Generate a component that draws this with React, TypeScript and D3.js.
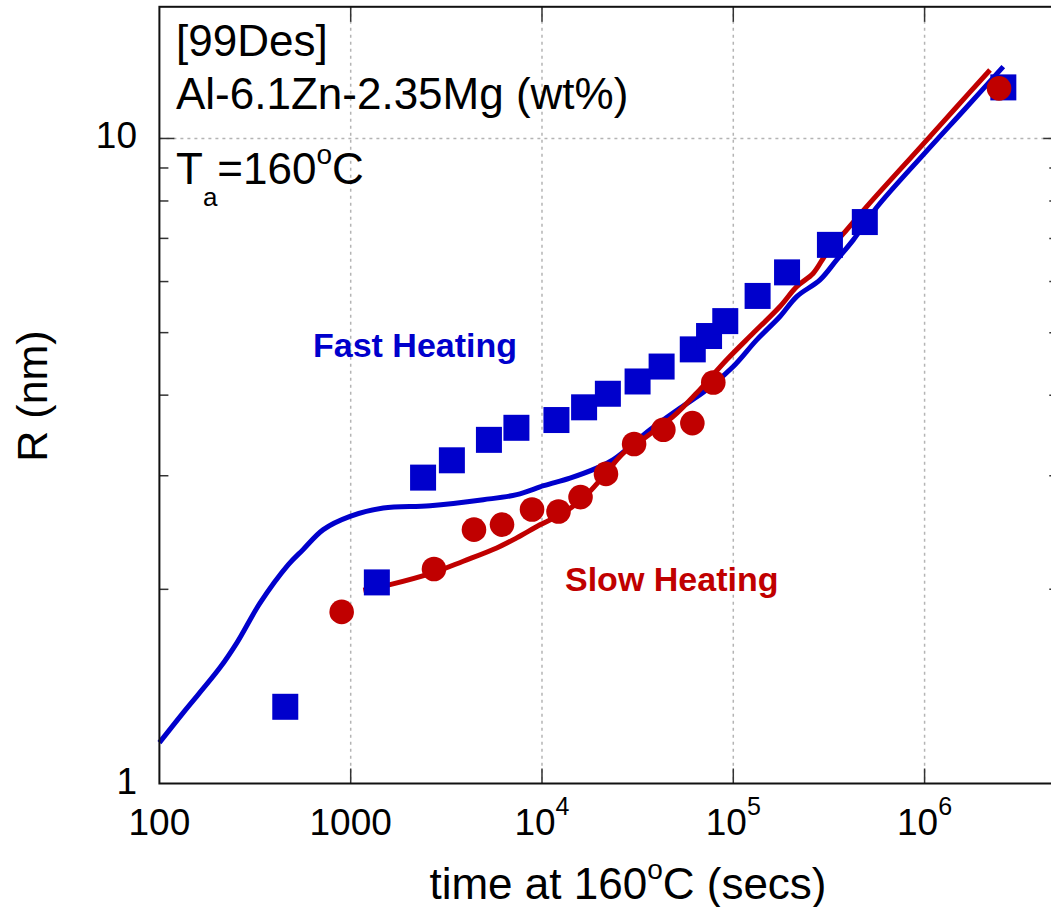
import React from 'react';
import * as d3 from 'd3';

// ---- Data ----
const fastTime = [455, 1370, 2390, 3380, 5280, 7350, 11900, 16600, 22100, 31600, 42200, 61400, 74700, 90800, 134000, 191000, 320000, 487000, 2580000];
const fastR = [1.315, 2.05, 2.98, 3.17, 3.41, 3.56, 3.66, 3.83, 4.02, 4.2, 4.43, 4.71, 4.94, 5.21, 5.7, 6.2, 6.84, 7.42, 12.0];

const slowTime = [897, 2725, 4410, 6180, 8870, 12200, 15900, 21600, 30300, 43100, 61100, 78600, 2450000];
const slowR = [1.845, 2.15, 2.475, 2.52, 2.66, 2.64, 2.78, 3.02, 3.36, 3.535, 3.62, 4.185, 11.96];

const fastModelTime = [100, 133, 207, 254, 336, 472, 563, 719, 992, 1480, 2600, 4930, 7380, 10200, 14000, 19300, 23600, 36700, 52700, 72600, 100000, 132600, 175400, 214500, 283900, 347100, 424000, 563900, 1005000, 1626000, 2578000];
const fastModelR = [1.157, 1.287, 1.511, 1.652, 1.905, 2.184, 2.304, 2.475, 2.595, 2.674, 2.696, 2.754, 2.804, 2.895, 2.975, 3.083, 3.177, 3.535, 3.819, 4.077, 4.431, 4.873, 5.296, 5.687, 6.036, 6.483, 6.963, 7.83, 9.5, 11.11, 12.92];

const slowModelTime = [1164, 1605, 2703, 3877, 5797, 7375, 9761, 12920, 16440, 20910, 26610, 35260, 48580, 64370, 92360, 127200, 175400, 214500, 261900, 307700, 391600, 498100, 946000, 1442000, 2198000];
const slowModelR = [1.993, 2.034, 2.123, 2.211, 2.318, 2.403, 2.518, 2.627, 2.771, 2.993, 3.253, 3.452, 3.707, 4.03, 4.538, 4.992, 5.488, 5.893, 6.182, 6.641, 7.216, 7.84, 9.68, 11.12, 12.77];

const xTicks = [100, 1000, 1e4, 1e5, 1e6];
const xTickBase = ['100', '1000', '10', '10', '10'];
const xTickExp = ['', '', '4', '5', '6'];
const yMajorTicks = [1, 10];
const yMinorTicks = [2, 3, 4, 5, 6, 7, 8, 9, 20];

const X_DOMAIN: [number, number] = [100, 5e6];
const Y_DOMAIN: [number, number] = [1, 16];

const BLUE = '#0000cc';
const RED = '#c00000';
const FONT = '"Liberation Sans", Arial, Helvetica, sans-serif';

export default function App() {
  const W = 1051, H = 907;
  const left = 159.4, right = 1058.3, top = 6.8, bottom = 783.5;

  const x = d3.scaleLog().domain(X_DOMAIN).range([left, right]);
  const y = d3.scaleLog().domain(Y_DOMAIN).range([bottom, top]);

  const line = d3
    .line<[number, number]>()
    .x((d) => x(d[0]))
    .y((d) => y(d[1]))
    .curve(d3.curveCatmullRom.alpha(0.5));

  const fastModel = fastModelTime.map((t, i) => [t, fastModelR[i]] as [number, number]);
  const slowModel = slowModelTime.map((t, i) => [t, slowModelR[i]] as [number, number]);

  const sq = 26;
  const cr = 12.3;

  const gridColor = '#b4b4b4';
  const tickColor = '#333';

  const yMinorVisible = yMinorTicks.filter((v) => v > Y_DOMAIN[0] && v < Y_DOMAIN[1]);

  return (
    <svg
      width={W}
      height={H}
      style={{ position: 'absolute', left: 0, top: 0, background: '#fff' }}
      fontFamily={FONT}
    >
      <rect x={0} y={0} width={W} height={H} fill="#fff" />

      {/* grid */}
      {xTicks.filter((t) => t > X_DOMAIN[0]).map((t) => (
        <line key={'gx' + t} x1={x(t)} x2={x(t)} y1={top} y2={bottom} stroke={gridColor} strokeWidth={1.5} strokeDasharray="3,4" />
      ))}
      {yMajorTicks.filter((v) => v > Y_DOMAIN[0]).map((v) => (
        <line key={'gy' + v} x1={left} x2={right} y1={y(v)} y2={y(v)} stroke={gridColor} strokeWidth={1.5} strokeDasharray="3,4" />
      ))}

      {/* model lines */}
      <path d={line(fastModel) || ''} fill="none" stroke={BLUE} strokeWidth={5} strokeLinejoin="round" />
      <path d={line(slowModel) || ''} fill="none" stroke={RED} strokeWidth={5} strokeLinejoin="round" />

      {/* fast heating squares */}
      {fastTime.map((t, i) => (
        <rect key={'s' + i} x={x(t) - sq / 2} y={y(fastR[i]) - sq / 2} width={sq} height={sq} fill={BLUE} />
      ))}

      {/* slow heating circles */}
      {slowTime.map((t, i) => (
        <circle key={'c' + i} cx={x(t)} cy={y(slowR[i])} r={cr} fill={RED} />
      ))}

      {/* ticks */}
      {xTicks.filter((t) => t > X_DOMAIN[0]).map((t) => (
        <g key={'tx' + t}>
          <line x1={x(t)} x2={x(t)} y1={bottom} y2={bottom - 15} stroke={tickColor} strokeWidth={1.5} />
          <line x1={x(t)} x2={x(t)} y1={top} y2={top + 15} stroke={tickColor} strokeWidth={1.5} />
        </g>
      ))}
      {yMajorTicks.filter((v) => v > Y_DOMAIN[0]).map((v) => (
        <g key={'ty' + v}>
          <line x1={left} x2={left + 15} y1={y(v)} y2={y(v)} stroke={tickColor} strokeWidth={1.5} />
          <line x1={right} x2={right - 15} y1={y(v)} y2={y(v)} stroke={tickColor} strokeWidth={1.5} />
        </g>
      ))}
      {yMinorVisible.map((v) => (
        <g key={'tm' + v}>
          <line x1={left} x2={left + 9} y1={y(v)} y2={y(v)} stroke={tickColor} strokeWidth={1.5} />
          <line x1={right} x2={right - 9} y1={y(v)} y2={y(v)} stroke={tickColor} strokeWidth={1.5} />
        </g>
      ))}

      {/* frame */}
      <rect x={left} y={top} width={right - left} height={bottom - top} fill="none" stroke="#111" strokeWidth={2} />

      {/* x tick labels */}
      {xTicks.map((t, i) => (
        <text key={'lx' + t} x={x(t)} y={835} fontSize={37} textAnchor="middle" fill="#000">
          {xTickBase[i]}
          {xTickExp[i] ? (
            <tspan fontSize={25} dy={-20}>{xTickExp[i]}</tspan>
          ) : null}
        </text>
      ))}

      {/* y tick labels */}
      {yMajorTicks.map((v) => (
        <text key={'ly' + v} x={137} y={y(v) + 10} fontSize={37} textAnchor="end" fill="#000">
          {String(v)}
        </text>
      ))}

      {/* axis titles */}
      <text x={628} y={899} fontSize={44} textAnchor="middle" fill="#000">
        time at 160
        <tspan fontSize={28} dy={-20}>o</tspan>
        <tspan dy={20}>C (secs)</tspan>
      </text>
      <text transform="translate(47,396) rotate(-90)" fontSize={43} textAnchor="middle" fill="#000">
        R (nm)
      </text>

      {/* annotations */}
      <text x={176} y={56} fontSize={44} fill="#000">[99Des]</text>
      <text x={176} y={109} fontSize={44} fill="#000">Al-6.1Zn-2.35Mg (wt%)</text>
      <text x={176} y={184} fontSize={44} fill="#000">
        T
        <tspan fontSize={26} dy={22}>a</tspan>
        <tspan dy={-22}>=160</tspan>
        <tspan fontSize={28} dy={-20}>o</tspan>
        <tspan dy={20}>C</tspan>
      </text>

      <text x={313} y={357} fontSize={34} fontWeight="bold" fill={BLUE}>Fast Heating</text>
      <text x={565} y={591} fontSize={34} fontWeight="bold" fill={RED}>Slow Heating</text>
    </svg>
  );
}
